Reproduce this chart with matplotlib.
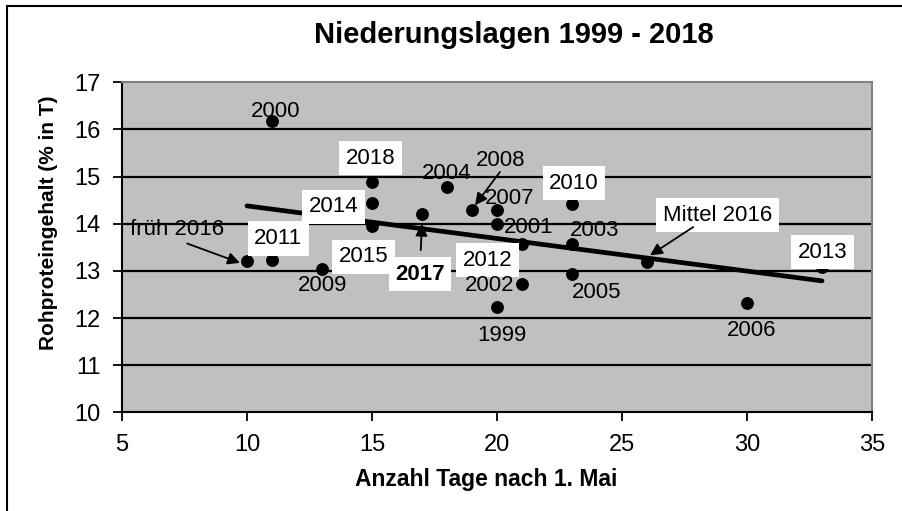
import matplotlib
matplotlib.use("Agg")
import matplotlib.pyplot as plt
import numpy as np
from matplotlib.patches import Rectangle

# ---- data ----
labels = ['2000', '2018', '2014', '2015', 'früh 2016', '2011', '2009', '2017',
          '2004', '2008', '2007', '2001', '2012', '2002', '1999', '2010',
          '2003', '2005', 'Mittel 2016', '2006', '2013']
days = [11, 15, 15, 15, 10, 11, 13, 17,
        18, 19, 20, 20, 21, 21, 20, 23,
        23, 23, 26, 30, 33]
protein = [16.18, 14.89, 14.43, 13.95, 13.21, 13.24, 13.05, 14.20,
           14.77, 14.30, 14.30, 14.00, 13.56, 12.73, 12.23, 14.42,
           13.57, 12.93, 13.18, 12.31, 13.08]

title = 'Niederungslagen 1999 - 2018'
xlabel = 'Anzahl Tage nach 1. Mai'
ylabel = 'Rohproteingehalt (% in T)'
xticks = [5, 10, 15, 20, 25, 30, 35]
yticks = [10, 11, 12, 13, 14, 15, 16, 17]

# ---- label placement (text centres, data coords) ----
label_pos = {
    '2000': (11.15, 16.38), '2018': (14.95, 15.39), '2014': (13.45, 14.36),
    '2015': (14.65, 13.30), 'früh 2016': (7.19, 13.88), '2011': (11.25, 13.69),
    '2009': (13.01, 12.70), '2017': (16.92, 12.93), '2004': (17.99, 15.07),
    '2008': (20.16, 15.35), '2007': (20.52, 14.54), '2001': (21.25, 13.93),
    '2012': (19.61, 13.23), '2002': (19.72, 12.68), '1999': (20.19, 11.63),
    '2010': (23.08, 14.86), '2003': (23.92, 13.86), '2005': (23.99, 12.55),
    'Mittel 2016': (28.81, 14.18), '2006': (30.19, 11.74), '2013': (33.03, 13.40),
}
boxed = {'2018', '2014', '2015', '2011', '2017', '2012', '2010', 'Mittel 2016', '2013'}
arrows = {  # label -> (start, end)
    'früh 2016': ((7.61, 13.58), (9.72, 13.17)),
    '2017': ((16.95, 13.44), (17.0, 14.0)),
    '2008': ((20.12, 15.10), (19.12, 14.39)),
    'Mittel 2016': ((27.85, 13.93), (26.12, 13.33)),
}

plt.rcParams['font.family'] = ['Liberation Sans', 'DejaVu Sans']

W, H = 902, 511
fig = plt.figure(figsize=(W / 100, H / 100), dpi=100)
ax = fig.add_axes([122 / W, 1 - 412.3 / H, 750 / W, 330 / H])
ax.set_facecolor('#c0c0c0')
ax.set_xlim(5, 35)
ax.set_ylim(10, 17)
ax.set_xticks(xticks)
ax.set_yticks(yticks)
ax.tick_params(axis='both', direction='out', length=6.5, width=1.3,
               labelsize=17, pad=9, colors='black')
for y in yticks[1:-1]:
    ax.axhline(y, color='black', lw=1.6, zorder=1)
ax.spines['left'].set_linewidth(1.5)
ax.spines['bottom'].set_linewidth(1.5)
ax.spines['top'].set_color('#808080')
ax.spines['right'].set_color('#808080')
ax.spines['top'].set_linewidth(1.5)
ax.spines['right'].set_linewidth(1.5)

# trend line (least squares)
x = np.array(days, dtype=float)
y = np.array(protein, dtype=float)
k, d = np.polyfit(x, y, 1)
xl = np.array([x.min(), x.max()])
ax.plot(xl, k * xl + d, color='black', lw=3.4, solid_capstyle='round', zorder=3)

ax.scatter(x, y, s=68, color='black', zorder=4)

for lab in labels:
    tx, ty = label_pos[lab]
    kw = dict(ha='center', va='center', fontsize=16, color='black', zorder=6)
    if lab == '2017':
        kw['fontweight'] = 'bold'
    if lab in boxed:
        kw['bbox'] = dict(boxstyle='square,pad=0.3', fc='white', ec='none')
    ax.text(tx, ty, lab, **kw)

for lab, (s, e) in arrows.items():
    ax.annotate('', xy=e, xytext=s,
                arrowprops=dict(arrowstyle='-|>', color='black', lw=1.3,
                                mutation_scale=18, shrinkA=0, shrinkB=0),
                zorder=7)

fig.text(514 / W, 1 - 35 / H, title, ha='center', va='center',
         fontsize=21, fontweight='bold')
fig.text(486 / W, 1 - 479 / H, xlabel, ha='center', va='center',
         fontsize=16.5, fontweight='bold')
fig.text(49 / W, 1 - 223 / H, ylabel, ha='center', va='center',
         rotation=90, fontsize=15, fontweight='bold')

fig.add_artist(Rectangle((7 / W, -0.1), 1.2, 1 - 6 / H + 0.1,
                         transform=fig.transFigure, fill=False,
                         ec='black', lw=1.5, clip_on=False))

fig.savefig('out.png', dpi=100)
